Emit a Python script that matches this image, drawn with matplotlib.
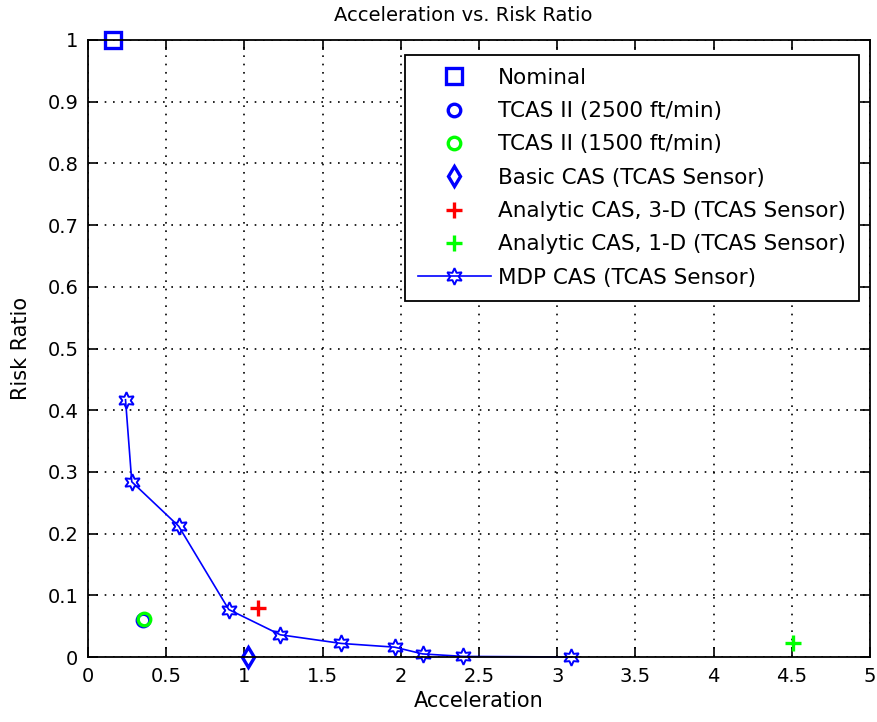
import numpy as np
import matplotlib.pyplot as plt

plt.rcParams['font.family'] = ['DejaVu Sans']

# point values
nominal_x, nominal_y = [0.16], [1.0]
tcas2500_x, tcas2500_y = [0.35], [0.06]
tcas1500_x, tcas1500_y = [0.36], [0.062]
basic_x, basic_y = [1.02], [0.0]
analytic3d_x, analytic3d_y = [1.09], [0.08]
analytic1d_x, analytic1d_y = [4.51], [0.022]
mdp_x = [0.24, 0.28, 0.58, 0.90, 1.23, 1.62, 1.96, 2.14, 2.40, 3.09]
mdp_y = [0.417, 0.284, 0.212, 0.077, 0.036, 0.022, 0.016, 0.005, 0.001, 0.0]

xticks = np.arange(0, 5.01, 0.5)
yticks = np.arange(0, 1.01, 0.1)

fig = plt.figure(figsize=(8.78, 7.22), dpi=100)
ax = fig.add_axes([0.1002, 0.09, 0.8908, 0.8546])

ax.plot(nominal_x, nominal_y, 's', color='blue', mfc='none', mew=2.4, ms=11, label='Nominal', clip_on=False)
ax.plot(tcas2500_x, tcas2500_y, 'o', color='blue', mfc='none', mew=2.4, ms=9, label='TCAS II (2500 ft/min)', clip_on=False)
ax.plot(tcas1500_x, tcas1500_y, 'o', color='#00ff00', mfc='none', mew=2.4, ms=9, label='TCAS II (1500 ft/min)', clip_on=False)
ax.plot(basic_x, basic_y, 'd', color='blue', mfc='none', mew=2.4, ms=10, label='Basic CAS (TCAS Sensor)', clip_on=False)
ax.plot(analytic3d_x, analytic3d_y, '+', color='red', mew=2.4, ms=12, label='Analytic CAS, 3-D (TCAS Sensor)', clip_on=False)
ax.plot(analytic1d_x, analytic1d_y, '+', color='#00ff00', mew=2.4, ms=12, label='Analytic CAS, 1-D (TCAS Sensor)', clip_on=False)
ax.plot(mdp_x, mdp_y, '-', color='blue', lw=1.2, marker=(6, 1, 0), mfc='none', mew=1.4, ms=12,
        label='MDP CAS (TCAS Sensor)', clip_on=False)

ax.set_xlim(0, 5)
ax.set_ylim(0, 1)
ax.set_xticks(xticks)
ax.set_yticks(yticks)
ax.set_xticklabels(['0', '0.5', '1', '1.5', '2', '2.5', '3', '3.5', '4', '4.5', '5'])
ax.set_yticklabels(['0', '0.1', '0.2', '0.3', '0.4', '0.5', '0.6', '0.7', '0.8', '0.9', '1'])
ax.tick_params(direction='in', length=7, width=1.2, labelsize=14, top=True, right=True, pad=7)
ax.grid(True, linestyle=(0, (1, 4)), color='black', lw=1.2)
for s in ax.spines.values():
    s.set_linewidth(1.3)

ax.set_title('Acceleration vs. Risk Ratio', fontsize=14, pad=14, x=0.48)
ax.set_xlabel('Acceleration', fontsize=15, labelpad=4)
ax.set_ylabel('Risk Ratio', fontsize=15, labelpad=12)

leg = ax.legend(loc='upper right', bbox_to_anchor=(0.986, 0.976), borderaxespad=0, fontsize=15.5,
                fancybox=False, edgecolor='black', framealpha=1, handlelength=3.4, handletextpad=0.35,
                borderpad=0.6, labelspacing=0.62, numpoints=1)
leg.get_frame().set_linewidth(1.3)

fig.savefig('out.png', dpi=100)
